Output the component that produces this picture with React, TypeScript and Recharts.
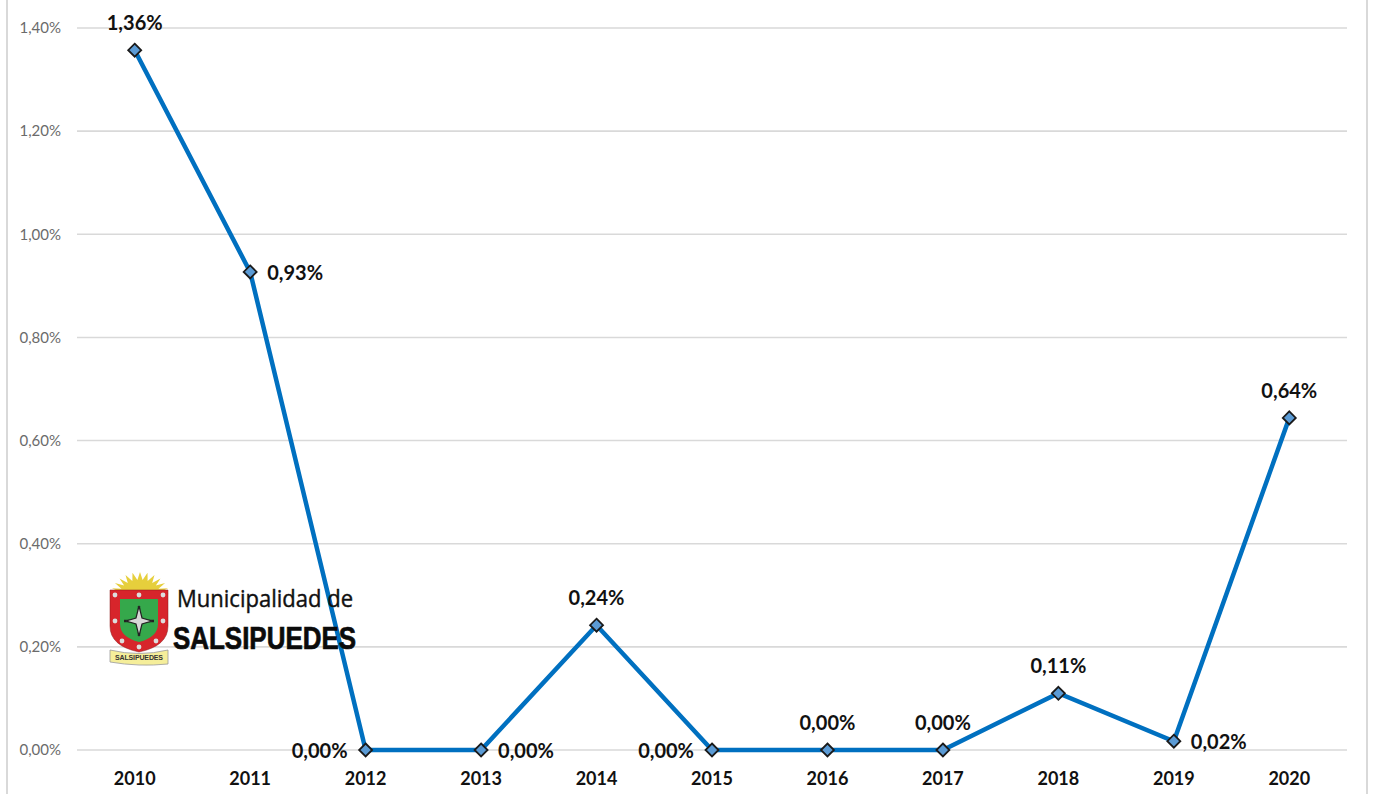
import { CartesianGrid, Line, LineChart, XAxis, YAxis } from "recharts";

const years = ["2010", "2011", "2012", "2013", "2014", "2015", "2016", "2017", "2018", "2019", "2020"];
const rates = [1.357, 0.927, 0, 0, 0.242, 0, 0, 0, 0.11, 0.017, 0.644];
const yTicks = [0, 0.2, 0.4, 0.6, 0.8, 1, 1.2, 1.4];
// where each data label sits relative to its point
const labelSides = ["top", "right", "left", "right", "top", "left", "top", "top", "top", "right", "top"];

const chartData = years.map((year, i) => ({ year, rate: rates[i], side: labelSides[i] }));

const FONT = "Lato, 'Open Sans', sans-serif";
const pct = (v: number) => v.toFixed(2).replace(".", ",") + "%";

const Diamond = ({ cx, cy, index }: any) => (
  <path
    key={index}
    d={`M${cx} ${cy - 6.5}L${cx + 6.5} ${cy}L${cx} ${cy + 6.5}L${cx - 6.5} ${cy}Z`}
    fill="#5B9BD5"
    stroke="#1a1a1a"
    strokeWidth={1.8}
  />
);

const PointLabel = ({ x, y, index }: any) => {
  const side = labelSides[index];
  let tx = x;
  let ty = y - 20;
  let anchor: "middle" | "start" | "end" = "middle";
  if (side === "right") {
    tx = x + 17;
    ty = y + 8;
    anchor = "start";
  } else if (side === "left") {
    tx = x - 18;
    ty = y + 8;
    anchor = "end";
  }
  return (
    <text x={tx} y={ty} textAnchor={anchor} fontFamily={FONT} fontSize={20} fontWeight={700} fill="#111">
      {pct(rates[index])}
    </text>
  );
};

// municipal logo, sits on top of the chart
const Logo = () => {
  const rays = [];
  for (let i = 0; i <= 12; i++) {
    const a = Math.PI + (Math.PI * i) / 12;
    const b = a + Math.PI / 24;
    rays.push(`${140 + 29 * Math.cos(a)},${594 + 22 * Math.sin(a)}`);
    if (i < 12) rays.push(`${140 + 20 * Math.cos(b)},${594 + 14 * Math.sin(b)}`);
  }
  return (
    <svg width={1373} height={794} style={{ position: "absolute", left: 0, top: 0, pointerEvents: "none" }}>
      <polygon points={rays.join(" ")} fill="#E6CF3C" />
      <path d="M110 590H168V626Q168 646 139 652Q110 646 110 626Z" fill="#D7252B" stroke="#8a1a1a" strokeWidth={0.5} />
      <path d="M120 599H158V624Q158 637 139 642Q120 637 120 624Z" fill="#35A84B" />
      <path d="M139 606V636M124 621H154" stroke="#222" strokeWidth={2.4} />
      <path
        d="M139 606L142 618L152 621L142 624L139 636L136 624L126 621L136 618Z"
        fill="#d8d8d8"
        stroke="#222"
        strokeWidth={1.2}
      />
      {[[115, 595], [139, 595], [163, 595], [115, 621], [163, 621], [122, 641], [156, 641], [139, 647]].map(([cx, cy]) => (
        <circle key={`${cx}-${cy}`} cx={cx} cy={cy} r={2.4} fill="#ddd" />
      ))}
      <path d="M110 650Q139 657 168 650V664Q139 667 110 662Z" fill="#F5EE9A" stroke="#999" strokeWidth={0.8} />
      <text x={139} y={660} textAnchor="middle" fontFamily="'Liberation Sans', sans-serif" fontSize={7} fontWeight={700} fill="#333" textLength={48}>
        SALSIPUEDES
      </text>
      <text x={177} y={607} fontFamily="'Open Sans', sans-serif" fontSize={23} fill="#111" stroke="#111" strokeWidth={0.4} textLength={176} lengthAdjust="spacingAndGlyphs">
        Municipalidad de
      </text>
      <text x={173} y={649} fontFamily="'Liberation Sans Narrow', 'Liberation Sans', sans-serif" fontSize={31} fontWeight={700} fill="#0b0b0b" stroke="#0b0b0b" strokeWidth={0.7} textLength={183} lengthAdjust="spacingAndGlyphs">
        SALSIPUEDES
      </text>
    </svg>
  );
};

export default function App() {
  return (
    <div style={{ position: "absolute", left: 0, top: 0, width: 1373, height: 794, background: "#fff", overflow: "hidden" }}>
      <div style={{ position: "absolute", left: 6, top: 0, width: 2, height: 794, background: "#d9d9d9" }} />
      <div style={{ position: "absolute", left: 1366, top: 0, width: 2, height: 794, background: "#d9d9d9" }} />
      <LineChart
        width={1373}
        height={794}
        data={chartData}
        margin={{ top: 28, right: 26, bottom: 14, left: 7 }}
        style={{ position: "absolute", left: 0, top: 0 }}
      >
        <CartesianGrid horizontal vertical={false} stroke="#d9d9d9" strokeWidth={1.6} />
        <XAxis
          dataKey="year"
          height={30}
          axisLine={false}
          tickLine={false}
          interval={0}
          padding={{ left: 57.7, right: 57.7 }}
          tickMargin={16}
          tick={{ fontFamily: FONT, fontSize: 18, fontWeight: 700, fill: "#111" }}
        />
        <YAxis
          width={70}
          domain={[0, 1.4]}
          ticks={yTicks}
          axisLine={false}
          tickLine={false}
          tickMargin={10}
          tickFormatter={pct}
          tick={{ fontFamily: FONT, fontSize: 15, fill: "#6b6b6b" }}
        />
        <Line
          type="linear"
          dataKey="rate"
          stroke="#0070C0"
          strokeWidth={4.5}
          dot={<Diamond />}
          activeDot={false}
          label={<PointLabel />}
          isAnimationActive={false}
        />
      </LineChart>
      <Logo />
    </div>
  );
}
